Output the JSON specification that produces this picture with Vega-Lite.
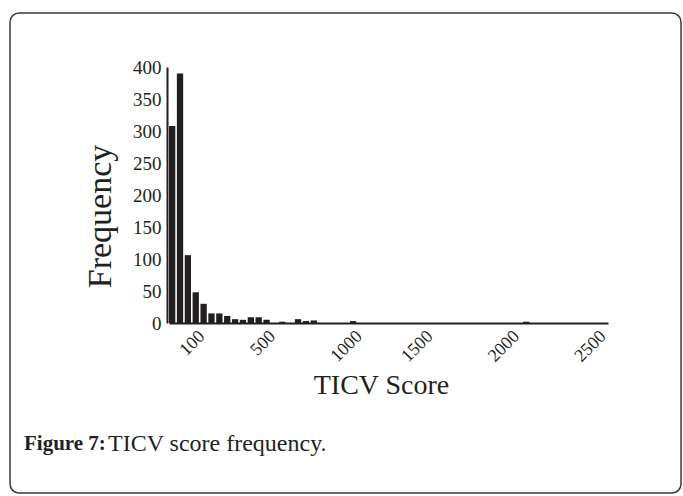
{
  "$schema": "https://vega.github.io/schema/vega-lite/v6.json",
  "width": 671,
  "height": 480,
  "autosize": {"type": "none"},
  "padding": {"left": 10, "top": 13, "right": 2, "bottom": 3},
  "background": "white",
  "config": {
    "view": {"stroke": "#3a3a3a", "strokeWidth": 1.5, "cornerRadius": 9},
    "font": "Liberation Serif"
  },
  "title": {
    "text": "Figure 7:",
    "subtitle": "\u200b\u00a0\u00a0\u00a0\u00a0\u00a0\u00a0\u00a0\u00a0\u00a0\u00a0\u00a0\u00a0\u00a0\u00a0TICV score frequency.",
    "orient": "bottom",
    "anchor": "start",
    "frame": "group",
    "offset": -60,
    "dx": 14,
    "font": "Liberation Serif",
    "fontSize": 21,
    "fontWeight": "bold",
    "color": "#231f20",
    "subtitleFont": "Liberation Serif",
    "subtitleFontSize": 24,
    "subtitleFontWeight": "normal",
    "subtitleColor": "#231f20",
    "subtitlePadding": -22
  },
  "data": {
    "values": [
      {"bin_index": 0, "count": 308}, {"bin_index": 1, "count": 390}, {"bin_index": 2, "count": 106},
      {"bin_index": 3, "count": 48}, {"bin_index": 4, "count": 30}, {"bin_index": 5, "count": 15},
      {"bin_index": 6, "count": 15}, {"bin_index": 7, "count": 11}, {"bin_index": 8, "count": 6},
      {"bin_index": 9, "count": 5}, {"bin_index": 10, "count": 9}, {"bin_index": 11, "count": 9},
      {"bin_index": 12, "count": 5}, {"bin_index": 13, "count": 0}, {"bin_index": 14, "count": 2},
      {"bin_index": 15, "count": 0}, {"bin_index": 16, "count": 6}, {"bin_index": 17, "count": 3},
      {"bin_index": 18, "count": 4}, {"bin_index": 19, "count": 0}, {"bin_index": 20, "count": 0},
      {"bin_index": 21, "count": 0}, {"bin_index": 22, "count": 0}, {"bin_index": 23, "count": 3},
      {"bin_index": 24, "count": 0}, {"bin_index": 25, "count": 0}, {"bin_index": 26, "count": 0},
      {"bin_index": 27, "count": 0}, {"bin_index": 28, "count": 0}, {"bin_index": 29, "count": 0},
      {"bin_index": 30, "count": 0}, {"bin_index": 31, "count": 0}, {"bin_index": 32, "count": 0},
      {"bin_index": 33, "count": 0}, {"bin_index": 34, "count": 0}, {"bin_index": 35, "count": 0},
      {"bin_index": 36, "count": 0}, {"bin_index": 37, "count": 0}, {"bin_index": 38, "count": 0},
      {"bin_index": 39, "count": 0}, {"bin_index": 40, "count": 0}, {"bin_index": 41, "count": 0},
      {"bin_index": 42, "count": 0}, {"bin_index": 43, "count": 0}, {"bin_index": 44, "count": 0},
      {"bin_index": 45, "count": 2}, {"bin_index": 46, "count": 0}, {"bin_index": 47, "count": 0},
      {"bin_index": 48, "count": 0}, {"bin_index": 49, "count": 0}, {"bin_index": 50, "count": 0},
      {"bin_index": 51, "count": 0}, {"bin_index": 52, "count": 0}, {"bin_index": 53, "count": 0},
      {"bin_index": 54, "count": 0}, {"bin_index": 55, "count": 0}
    ]
  },
  "mark": {"type": "bar", "color": "#231f20"},
  "encoding": {
    "x": {
      "field": "bin_index",
      "type": "ordinal",
      "scale": {"range": [159, 598], "paddingInner": 0.2, "paddingOuter": 0},
      "axis": {
        "title": "TICV Score",
        "offset": -170,
        "values": [3, 12, 23, 32, 43, 54],
        "bandPosition": 0,
        "labelExpr": "datum.value == 3 ? '100' : datum.value == 12 ? '500' : datum.value == 23 ? '1000' : datum.value == 32 ? '1500' : datum.value == 43 ? '2000' : '2500'",
        "labelAngle": -45,
        "ticks": false,
        "grid": false,
        "domainColor": "#231f20",
        "domainWidth": 2,
        "labelFont": "Liberation Serif",
        "labelFontSize": 18,
        "labelColor": "#231f20",
        "labelPadding": 4,
        "titleFont": "Liberation Serif",
        "titleFontSize": 28,
        "titleFontWeight": "normal",
        "titleColor": "#231f20",
        "titlePadding": 6,
        "titleX": 371
      }
    },
    "y": {
      "field": "count",
      "type": "quantitative",
      "scale": {"domain": [0, 400], "range": [310, 54]},
      "axis": {
        "title": "Frequency",
        "offset": -157,
        "values": [0, 50, 100, 150, 200, 250, 300, 350, 400],
        "ticks": false,
        "grid": false,
        "domainColor": "#231f20",
        "domainWidth": 2,
        "labelFont": "Liberation Serif",
        "labelFontSize": 19,
        "labelColor": "#231f20",
        "labelPadding": 6,
        "titleFont": "Liberation Serif",
        "titleFontSize": 34,
        "titleFontWeight": "normal",
        "titleColor": "#231f20",
        "titleX": -50,
        "titleY": 203
      }
    }
  }
}
